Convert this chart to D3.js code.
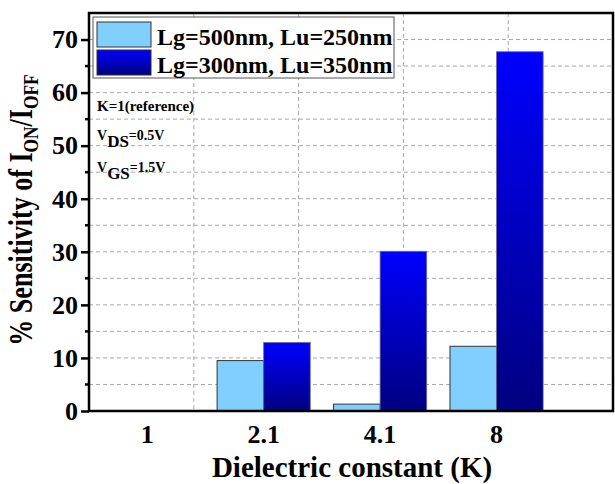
<!DOCTYPE html>
<html>
<head>
<meta charset="utf-8">
<script src="https://cdn.jsdelivr.net/npm/d3@7"></script>
<style>
  body { margin: 0; background: #fff; }
  text { font-family: "Liberation Serif", "Times New Roman", serif; font-weight: bold; }
</style>
</head>
<body>
<script>
// dielectric constant categories and the two device series
var categories = ["1", "2.1", "4.1", "8"];
var series500 = [0, 9.5, 1.3, 12.2];   // Lg=500nm, Lu=250nm
var series300 = [0, 12.9, 30.1, 67.7]; // Lg=300nm, Lu=350nm
var seriesNames = ["Lg=500nm, Lu=250nm", "Lg=300nm, Lu=350nm"];
var yTicks = [0, 10, 20, 30, 40, 50, 60, 70];
var yGrid = [5, 10, 15, 20, 25, 30, 35, 40, 45, 50, 55, 60, 65, 70];
var xGrid = [1.4, 2.3, 3.2, 4.1];

var w = 615, h = 484;
var pLeft = 89, pRight = 613, pTop = 13, pBottom = 411;

var svg = d3.select("body").append("svg")
  .attr("width", w)
  .attr("height", h);

var defs = svg.append("defs");
var grad = defs.append("linearGradient")
  .attr("id", "darkGrad")
  .attr("x1", 0).attr("y1", 0).attr("x2", 0).attr("y2", 1);
grad.append("stop").attr("offset", "0%").attr("stop-color", "#0000ff");
grad.append("stop").attr("offset", "100%").attr("stop-color", "#000080");

var x = d3.scaleLinear().domain([0.5, 5.0]).range([pLeft, pRight]);
var y = d3.scaleLinear().domain([0, 75]).range([pBottom, pTop]);
var barW = x(0.4) - x(0);

// grid
svg.selectAll(".hgrid").data(yGrid).enter().append("line")
  .attr("x1", pLeft).attr("x2", pRight)
  .attr("y1", function (d) { return y(d); })
  .attr("y2", function (d) { return y(d); })
  .attr("stroke", "#a8a8a8").attr("stroke-width", 1)
  .attr("stroke-dasharray", "4,3");
svg.selectAll(".vgrid").data(xGrid).enter().append("line")
  .attr("x1", function (d) { return x(d); })
  .attr("x2", function (d) { return x(d); })
  .attr("y1", pTop).attr("y2", pBottom)
  .attr("stroke", "#a8a8a8").attr("stroke-width", 1)
  .attr("stroke-dasharray", "4,3");

// bars
var idx = d3.range(categories.length);
svg.selectAll(".bar500").data(idx).enter().append("rect")
  .filter(function (i) { return series500[i] > 0; })
  .attr("x", function (i) { return x(i + 1) - barW; })
  .attr("y", function (i) { return y(series500[i]); })
  .attr("width", barW)
  .attr("height", function (i) { return pBottom - y(series500[i]); })
  .attr("fill", "#80cfff")
  .attr("stroke", "#333").attr("stroke-width", 1);
svg.selectAll(".bar300").data(idx).enter().append("rect")
  .filter(function (i) { return series300[i] > 0; })
  .attr("x", function (i) { return x(i + 1); })
  .attr("y", function (i) { return y(series300[i]); })
  .attr("width", barW)
  .attr("height", function (i) { return pBottom - y(series300[i]); })
  .attr("fill", "url(#darkGrad)")
  .attr("stroke", "#6a6a9a").attr("stroke-width", 0.8);

// frame
svg.append("rect")
  .attr("x", pLeft).attr("y", pTop)
  .attr("width", pRight - pLeft).attr("height", pBottom - pTop)
  .attr("fill", "none").attr("stroke", "#000").attr("stroke-width", 2.5);

// y axis
var yAxis = d3.axisLeft(y).tickValues(yTicks).tickSize(8).tickPadding(3);
var gy = svg.append("g").attr("transform", "translate(" + pLeft + ",0)").call(yAxis);
gy.select(".domain").remove();
gy.selectAll(".tick line").attr("stroke-width", 2.5);
gy.selectAll(".tick text").attr("font-size", 26).attr("font-family", "Liberation Serif").attr("fill", "#000");
svg.selectAll(".minor").data(d3.range(5, 75, 10)).enter().append("line")
  .attr("x1", pLeft - 4).attr("x2", pLeft)
  .attr("y1", function (d) { return y(d); })
  .attr("y2", function (d) { return y(d); })
  .attr("stroke", "#000").attr("stroke-width", 2.5);

// x labels
svg.selectAll(".xlab").data(categories).enter().append("text")
  .attr("x", function (d, i) { return x(i + 1); })
  .attr("y", 443)
  .attr("text-anchor", "middle")
  .attr("font-size", 26)
  .text(function (d) { return d; });

svg.append("text")
  .attr("x", 352).attr("y", 477)
  .attr("text-anchor", "middle")
  .attr("font-size", 29)
  .text("Dielectric constant (K)");

// y title is narrow in the original, so squeeze it along its reading direction
var yt = svg.append("text")
  .attr("transform", "translate(32,210) rotate(-90) scale(0.79,1)")
  .attr("text-anchor", "middle")
  .attr("font-size", 33);
yt.append("tspan").text("% Sensitivity of I");
yt.append("tspan").attr("font-size", 22).attr("dy", 6).text("ON");
yt.append("tspan").attr("dy", -6).text("/I");
yt.append("tspan").attr("font-size", 22).attr("dy", 6).text("OFF");

// legend
svg.append("rect")
  .attr("x", 93).attr("y", 17).attr("width", 301).attr("height", 61)
  .attr("fill", "#fff").attr("stroke", "#555").attr("stroke-width", 1);
var legFills = ["#80cfff", "url(#darkGrad)"];
seriesNames.forEach(function (name, i) {
  svg.append("rect")
    .attr("x", 97).attr("y", 22 + i * 28).attr("width", 54).attr("height", 25)
    .attr("fill", legFills[i]).attr("stroke", "#333").attr("stroke-width", 1);
  svg.append("text")
    .attr("x", 157).attr("y", 45 + i * 28)
    .attr("font-size", 24)
    .text(name);
});

// annotations
svg.append("text").attr("x", 97).attr("y", 111).attr("font-size", 15).text("K=1(reference)");
function vLabel(sub, rest, yy) {
  var t = svg.append("text").attr("x", 97).attr("y", yy).attr("font-size", 14);
  t.append("tspan").text("V");
  t.append("tspan").attr("font-size", 17).attr("dy", 7).text(sub);
  t.append("tspan").attr("dy", -7).text(rest);
}
vLabel("DS", "=0.5V", 140);
vLabel("GS", "=1.5V", 172);
</script>
</body>
</html>
